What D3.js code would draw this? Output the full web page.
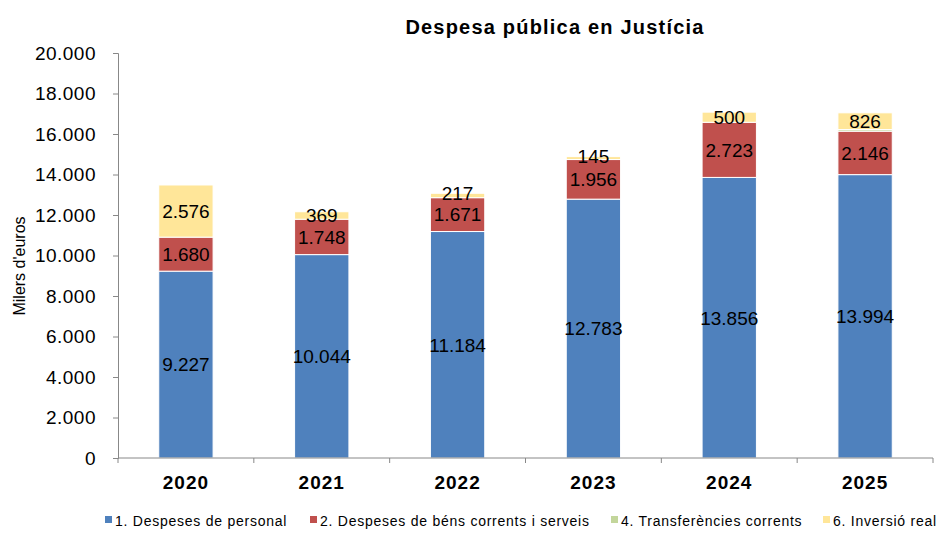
<!DOCTYPE html>
<html>
<head>
<meta charset="utf-8">
<script src="https://cdn.jsdelivr.net/npm/d3@7"></script>
<style>
  body { margin: 0; background: #fff; }
  svg { font-family: "Liberation Sans", Arial, sans-serif; }
</style>
</head>
<body>
<svg id="chart" width="938" height="534"></svg>
<script>
const years = ["2020", "2021", "2022", "2023", "2024", "2025"];
const personal = [9227, 10044, 11184, 12783, 13856, 13994];
const bens = [1680, 1748, 1671, 1956, 2723, 2146];
const transferencies = [0, 0, 0, 0, 0, 80];
const inversio = [2576, 369, 217, 145, 500, 826];
const seriesNames = ["1. Despeses de personal", "2. Despeses de béns corrents i serveis", "4. Transferències corrents", "6. Inversió real"];
const yTicks = [0, 2000, 4000, 6000, 8000, 10000, 12000, 14000, 16000, 18000, 20000];

const COLORS = ["#4F81BD", "#C0504D", "#C3D69B", "#FFE699"];

const svg = d3.select("#chart");
const margin = { left: 118, right: 5, top: 53, bottom: 76 };
const width = 938, height = 534;

const rows = years.map((y, i) => ({
    year: y, s0: personal[i], s1: bens[i], s2: transferencies[i], s3: inversio[i]
}));
const stack = d3.stack().keys(["s0", "s1", "s2", "s3"])(rows);

const x = d3.scaleBand()
    .domain(years)
    .range([margin.left, 933])
    .paddingInner(0.6)
    .paddingOuter(0.3);

const y = d3.scaleLinear()
    .domain([0, 20000])
    .range([height - margin.bottom, margin.top]);

const fmt = v => d3.format(",")(v).replace(/,/g, ".");

// Title
svg.append("text")
    .attr("x", 555).attr("y", 34)
    .attr("text-anchor", "middle")
    .attr("font-size", 20).attr("font-weight", "bold")
    .attr("letter-spacing", 1.2)
    .text("Despesa pública en Justícia");

// Y axis
const yAxis = svg.append("g")
    .attr("transform", `translate(${margin.left},0)`)
    .call(d3.axisLeft(y).tickValues(yTicks).tickFormat(fmt).tickSize(5).tickPadding(17));
yAxis.select(".domain").attr("stroke", "#888");
yAxis.selectAll(".tick line").attr("stroke", "#888");
yAxis.selectAll(".tick text").attr("font-size", 19).attr("fill", "#000")
    .attr("letter-spacing", 0.5)
    .attr("font-family", "Liberation Sans, Arial, sans-serif");

svg.append("text")
    .attr("transform", `translate(25,266) rotate(-90)`)
    .attr("text-anchor", "middle")
    .attr("font-size", 16)
    .text("Milers d'euros");

// Bars
svg.append("g").selectAll("g")
    .data(stack)
    .join("g")
    .attr("fill", (d, i) => COLORS[i])
    .selectAll("rect")
    .data(d => d)
    .join("rect")
    .attr("x", d => x(d.data.year))
    .attr("width", x.bandwidth())
    .attr("y", d => y(d[1]))
    .attr("height", d => Math.max(0, y(d[0]) - y(d[1])))
    .attr("stroke", "#fff")
    .attr("stroke-width", 1);

// X axis
const xAxisScale = d3.scaleLinear().domain([0, years.length]).range([margin.left, 933]);
const xg = svg.append("g").attr("transform", `translate(0,${height - margin.bottom})`);
xg.append("line").attr("x1", margin.left).attr("x2", 933).attr("stroke", "#888");
xg.selectAll(".tk").data(d3.range(years.length + 1)).join("line")
    .attr("x1", d => xAxisScale(d)).attr("x2", d => xAxisScale(d))
    .attr("y1", 0).attr("y2", 5).attr("stroke", "#888");
xg.selectAll(".lbl").data(years).join("text")
    .attr("x", d => x(d) + x.bandwidth() / 2)
    .attr("y", 31)
    .attr("text-anchor", "middle")
    .attr("font-size", 19).attr("font-weight", "bold")
    .attr("letter-spacing", 1)
    .text(d => d);

// Data labels (skip empty segments); small top labels nudged up a little
stack.forEach((layer, li) => {
    svg.append("g").selectAll("text")
        .data(layer.filter(d => d[1] - d[0] > 0 && li !== 2))
        .join("text")
        .attr("x", d => x(d.data.year) + x.bandwidth() / 2)
        .attr("y", d => y((d[0] + d[1]) / 2) - (li === 3 && d[1] - d[0] < 300 ? 2 : 0))
        .attr("dy", "0.36em")
        .attr("text-anchor", "middle")
        .attr("font-size", 19)
        .attr("fill", "#000")
        .text(d => fmt(d[1] - d[0]));
});

// Legend
const legendX = [105, 310, 611, 823];
const legend = svg.append("g").attr("transform", `translate(0,${height - 8})`);
seriesNames.forEach((name, i) => {
    legend.append("rect")
        .attr("x", legendX[i]).attr("y", -10)
        .attr("width", 7).attr("height", 7)
        .attr("fill", COLORS[i]);
    legend.append("text")
        .attr("x", legendX[i] + 10).attr("y", 0)
        .attr("font-size", 14)
        .attr("letter-spacing", 0.75)
        .text(name);
});
</script>
</body>
</html>
